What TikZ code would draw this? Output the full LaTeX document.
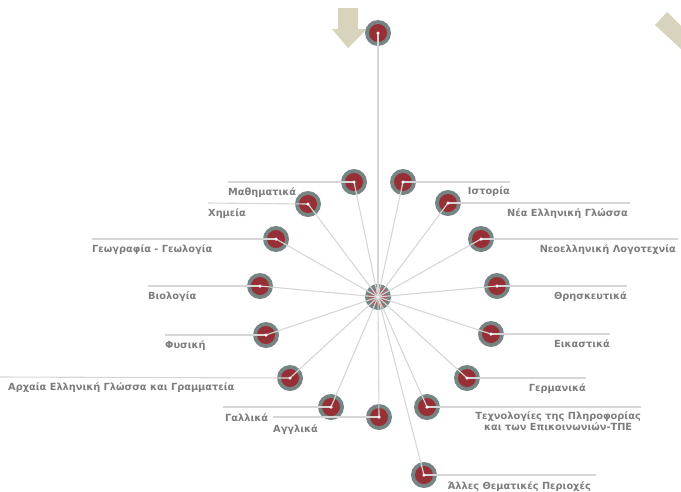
\documentclass[tikz,border=0pt]{standalone}
\usepackage{fontspec}
\setmainfont{DejaVu Sans}
\definecolor{ringgray}{RGB}{118,132,132}
\definecolor{topicred}{RGB}{150,48,54}
\definecolor{spokegray}{RGB}{214,214,214}
\definecolor{labelgray}{RGB}{125,125,125}
\definecolor{arrowbeige}{RGB}{216,211,189}
\tikzset{
  topic/.style={circle,fill=ringgray,minimum size=26pt,inner sep=0pt},
  topicin/.style={circle,fill=topicred,minimum size=18pt,inner sep=0pt},
  spoke/.style={color=spokegray,line width=1.1pt},
  dot/.style={circle,fill=white!90!pink,minimum size=3.5pt,inner sep=0pt},
  lbl/.style={font=\bfseries\fontsize{9.8}{11}\selectfont,text=labelgray,inner sep=0pt}
}
\begin{document}
\begin{tikzpicture}[x=1pt,y=-1pt]
\useasboundingbox (0,0) rectangle (681,491);
% Drawing arrows
\fill[arrowbeige] (338,8) -- (358,8) -- (358,29) -- (367,29) -- (348,48) -- (332,29) -- (338,29) -- cycle;
\fill[arrowbeige] (655,25) -- (667,12) -- (681,26) -- (681,49) -- cycle;
% Drawing hub
\node[topic] (hub) at (378,297) {};
\foreach \a in {0,15,...,345}
  \draw[topicred!80,line width=1pt] (hub.center) -- +(\a:10pt);
% Drawing topics
\node[topic] (top) at (378,33) {};
\node[topic] (mat) at (354,182) {};
\node[topic] (xim) at (308,204) {};
\node[topic] (geo) at (276,239) {};
\node[topic] (bio) at (260,286) {};
\node[topic] (fys) at (266,335) {};
\node[topic] (arx) at (290,378) {};
\node[topic] (gal) at (331,407) {};
\node[topic] (agg) at (379,417) {};
\node[topic] (ist) at (403,182) {};
\node[topic] (nea) at (448,203) {};
\node[topic] (lit) at (481,239) {};
\node[topic] (thr) at (497,286) {};
\node[topic] (eik) at (491,334) {};
\node[topic] (ger) at (467,378) {};
\node[topic] (tpe) at (427,407) {};
\node[topic] (all) at (424,475) {};
\foreach \n in {top,mat,xim,geo,bio,fys,arx,gal,agg,ist,nea,lit,thr,eik,ger,tpe,all}
  \node[topicin] at (\n) {};
% Drawing label lines
\coordinate (matend) at (228,182);
\coordinate (ximend) at (208,203);
\coordinate (geoend) at (92,239);
\coordinate (bioend) at (148,286);
\coordinate (fysend) at (165,335);
\coordinate (arxend) at (0,377);
\coordinate (galend) at (223,407);
\coordinate (aggend) at (273,417);
\coordinate (istend) at (510,182);
\coordinate (neaend) at (630,203);
\coordinate (litend) at (678,239);
\coordinate (thrend) at (627,286);
\coordinate (eikend) at (610,334);
\coordinate (gerend) at (586,378);
\coordinate (tpeend) at (641,407);
\coordinate (allend) at (596,475);
\foreach \n in {mat,xim,geo,bio,fys,arx,gal,agg,ist,nea,lit,thr,eik,ger,tpe,all}
  \draw[spoke] (\n.center) -- (\n end);
% Drawing spokes
\foreach \n in {top,mat,xim,geo,bio,fys,arx,gal,agg,ist,nea,lit,thr,eik,ger,tpe,all}
  \draw[spoke] (hub.center) -- (\n.center);
\foreach \n in {hub,top,mat,xim,geo,bio,fys,arx,gal,agg,ist,nea,lit,thr,eik,ger,tpe,all}
  \node[dot] at (\n) {};
% Drawing labels
\node[lbl,anchor=north west] (matl) at ([yshift=-5pt]matend) {Μαθηματικά};
\node[lbl,anchor=north west] (ximl) at ([yshift=-5pt]ximend) {Χημεία};
\node[lbl,anchor=north west] (geol) at ([yshift=-5pt]geoend) {Γεωγραφία - Γεωλογία};
\node[lbl,anchor=north west] (biol) at ([yshift=-5pt]bioend) {Βιολογία};
\node[lbl,anchor=north west] (fysl) at ([yshift=-5pt]fysend) {Φυσική};
\node[lbl,anchor=north west] (arxl) at ([xshift=8pt,yshift=-5pt]arxend) {Αρχαία Ελληνική Γλώσσα και Γραμματεία};
\node[lbl,anchor=north west] (gall) at ([xshift=2pt,yshift=-6pt]galend) {Γαλλικά};
\node[lbl,anchor=north west] (aggl) at ([yshift=-7pt]aggend) {Αγγλικά};
\node[lbl,anchor=north east] (istl) at ([yshift=-4pt]istend) {Ιστορία};
\node[lbl,anchor=north east] (neal) at ([xshift=-2pt,yshift=-5pt]neaend) {Νέα Ελληνική Γλώσσα};
\node[lbl,anchor=north east] (litl) at ([xshift=-2pt,yshift=-5pt]litend) {Νεοελληνική Λογοτεχνία};
\node[lbl,anchor=north east] (thrl) at ([yshift=-5pt]thrend) {Θρησκευτικά};
\node[lbl,anchor=north east] (eikl) at ([yshift=-5pt]eikend) {Εικαστικά};
\node[lbl,anchor=north east] (gerl) at ([yshift=-5pt]gerend) {Γερμανικά};
\node[lbl,anchor=north east,align=center] (tpel) at ([yshift=-4pt]tpeend) {Τεχνολογίες της Πληροφορίας\\και των Επικοινωνιών-ΤΠΕ};
\node[lbl,anchor=north east] (alll) at ([xshift=-5pt,yshift=-6pt]allend) {Άλλες Θεματικές Περιοχές};
\end{tikzpicture}
\end{document}
